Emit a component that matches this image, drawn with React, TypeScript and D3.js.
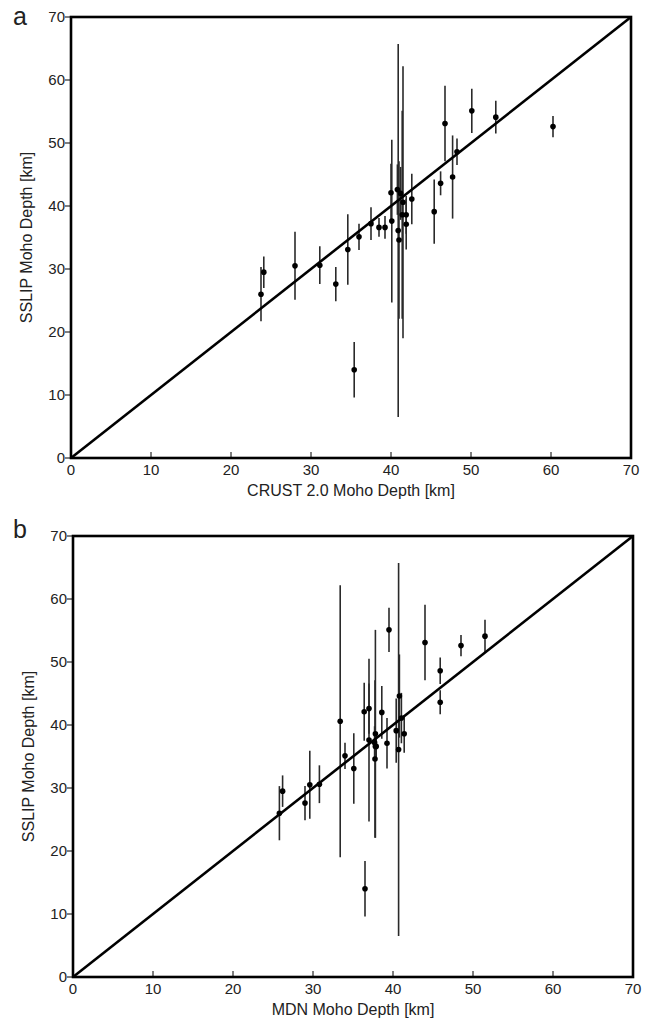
import React from "react";
import * as d3 from "d3";

// SSLIP Moho depth (same stations in both panels)
const sslipDepth = [26.0, 29.5, 30.5, 30.6, 27.6, 33.1, 14.0, 35.1, 37.2, 36.6, 36.6, 42.1, 37.6, 42.6, 42.0, 36.1, 34.6, 40.6, 38.6, 38.6, 37.1, 41.1, 39.1, 43.6, 53.1, 44.6, 48.6, 55.1, 54.1, 52.6];
const sslipErr = [4.3, 2.5, 5.4, 3.0, 2.7, 5.6, 4.4, 2.1, 2.6, 1.5, 1.8, 4.6, 12.9, 4.0, 4.2, 29.6, 12.5, 21.6, 16.5, 3.0, 4.0, 4.0, 5.1, 1.9, 6.0, 6.6, 2.1, 3.5, 2.6, 1.7];
// CRUST 2.0 Moho depth (panel a)
const crustDepth = [23.75, 24.1, 28.0, 31.1, 33.1, 34.6, 35.4, 36.0, 37.5, 38.5, 39.25, 40.0, 40.1, 40.8, 41.2, 40.9, 41.0, 41.5, 41.4, 41.9, 41.9, 42.6, 45.4, 46.2, 46.75, 47.7, 48.25, 50.1, 53.1, 60.25];
// MDN Moho depth (panel b)
const mdnDepth = [25.8, 26.2, 29.6, 30.8, 29.0, 35.1, 36.5, 34.0, 37.7, 37.8, 37.9, 36.4, 37.0, 37.0, 38.6, 40.7, 37.75, 33.4, 37.8, 41.4, 39.25, 41.05, 40.4, 45.9, 44.0, 40.8, 45.9, 39.5, 51.5, 48.5];

const tickValues = [0, 10, 20, 30, 40, 50, 60, 70];
const domainMax = 70;

const FONT = "'Liberation Sans', Arial, Helvetica, sans-serif";

type PanelProps = {
  letter: string;
  letterY: number;
  xLabel: string;
  xs: number[];
  left: number;
  top: number;
  width: number;
  height: number;
};

function Panel({ letter, letterY, xLabel, xs, left, top, width, height }: PanelProps) {
  const x = d3.scaleLinear().domain([0, domainMax]).range([left, left + width]);
  const y = d3.scaleLinear().domain([0, domainMax]).range([top + height, top]);
  const diag = d3.line<number>().x((d) => x(d)).y((d) => y(d))([0, domainMax]) || "";
  return (
    <g>
      <text x={13} y={letterY} fontFamily={FONT} fontSize={25} fill="#222">{letter}</text>
      {/* error bars */}
      {xs.map((xv, i) => (
        <line key={"e" + i} x1={x(xv)} x2={x(xv)} y1={y(sslipDepth[i] + sslipErr[i])} y2={y(sslipDepth[i] - sslipErr[i])}
          stroke="#2a2a2a" strokeWidth={1.6} />
      ))}
      {/* 1:1 line */}
      <path d={diag} stroke="#000" strokeWidth={2.6} fill="none" />
      {/* points */}
      {xs.map((xv, i) => (
        <circle key={"p" + i} cx={x(xv)} cy={y(sslipDepth[i])} r={2.8} fill="#000" />
      ))}
      {/* frame */}
      <rect x={left} y={top} width={width} height={height} fill="none" stroke="#000" strokeWidth={2.6} />
      {/* x ticks (inward) */}
      {tickValues.map((t) => (
        <g key={"xt" + t}>
          <line x1={x(t)} x2={x(t)} y1={top + height} y2={top + height - 6} stroke="#000" strokeWidth={1} />
          <text x={x(t)} y={top + height + 17} textAnchor="middle" fontFamily={FONT} fontSize={15} fill="#222">{t}</text>
        </g>
      ))}
      {/* y ticks (outward) */}
      {tickValues.map((t) => (
        <g key={"yt" + t}>
          <line x1={left} x2={left - 6} y1={y(t)} y2={y(t)} stroke="#000" strokeWidth={1} />
          <text x={left - 6} y={y(t) + 5} textAnchor="end" fontFamily={FONT} fontSize={15} fill="#222">{t}</text>
        </g>
      ))}
      <text x={left + width / 2} y={top + height + 38} textAnchor="middle" fontFamily={FONT} fontSize={16} fill="#222">{xLabel}</text>
      <text transform={`translate(${left - 39},${top + height / 2}) rotate(-90)`} textAnchor="middle" fontFamily={FONT} fontSize={16} fill="#222">SSLIP Moho Depth [km]</text>
    </g>
  );
}

export default function App() {
  return (
    <svg width={662} height={1022} style={{ position: "absolute", left: 0, top: 0, background: "#fff" }}>
      <rect width={662} height={1022} fill="#fff" />
      <Panel letter="a" letterY={25} xLabel="CRUST 2.0 Moho Depth [km]" xs={crustDepth} left={71} top={17} width={560} height={441} />
      <Panel letter="b" letterY={538} xLabel="MDN Moho Depth [km]" xs={mdnDepth} left={73} top={536} width={560} height={441} />
    </svg>
  );
}
